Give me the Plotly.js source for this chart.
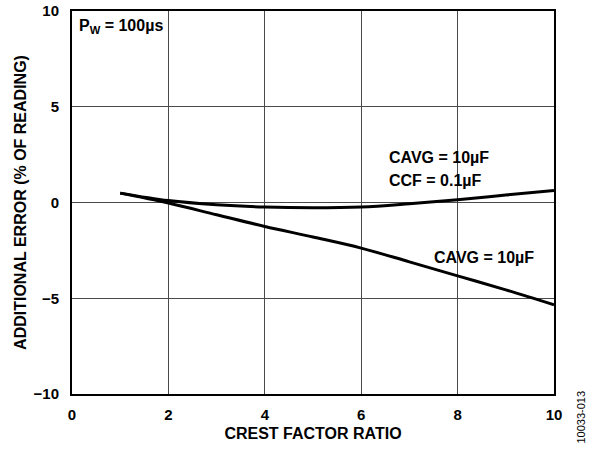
<!DOCTYPE html>
<html>
<head>
<meta charset="utf-8">
<script src="https://cdn.plot.ly/plotly-3.0.1.min.js"></script>
<style>html,body{margin:0;padding:0;background:#fff;}#chart{width:597px;height:450px;}</style>
</head>
<body>
<div id="chart"></div>
<script>
const crestFactor = [1, 2, 3, 4, 5, 6, 7, 8, 9, 10];
const errWithCcf = [0.49, 0.1, -0.12, -0.24, -0.28, -0.24, -0.07, 0.14, 0.39, 0.63];
const errNoCcf = [0.49, -0.03, -0.64, -1.25, -1.8, -2.38, -3.1, -3.83, -4.56, -5.34];
const xTicks = [0, 2, 4, 6, 8, 10];
const yTicks = [-10, -5, 0, 5, 10];
const yTickText = ['\u221210', '\u22125', '0', '5', '10'];

const FONT = 'Liberation Sans, Arial, sans-serif';
const traces = [
  {x: crestFactor, y: errWithCcf, mode: 'lines', line: {color: '#000', width: 3, shape: 'spline'}, hoverinfo: 'skip'},
  {x: crestFactor, y: errNoCcf, mode: 'lines', line: {color: '#000', width: 3, shape: 'spline'}, hoverinfo: 'skip'}
];
const ann = (x, y, text) => ({x, y, xref: 'x', yref: 'y', text, showarrow: false, xanchor: 'left', yanchor: 'middle', font: {family: FONT, size: 16, color: '#000', weight: 'bold'}});
const layout = {
  width: 597, height: 450,
  margin: {l: 72, r: 43, t: 11, b: 56},
  paper_bgcolor: '#fff', plot_bgcolor: '#fff',
  showlegend: false,
  font: {family: FONT, color: '#000', size: 15, weight: 'bold'},
  xaxis: {
    range: [0, 10], tickvals: xTicks, ticktext: xTicks.map(String),
    showgrid: true, gridcolor: '#4a4a4a', gridwidth: 1,
    showline: true, linecolor: '#000', linewidth: 2, mirror: true,
    zeroline: false, ticks: 'outside', ticklen: 6, tickcolor: 'rgba(0,0,0,0)',
    tickfont: {family: FONT, size: 15, weight: 'bold', color: '#000'},
    title: {text: 'CREST FACTOR RATIO', font: {family: FONT, size: 16, weight: 'bold', color: '#000'}, standoff: 6}
  },
  yaxis: {
    range: [-10, 10], tickvals: yTicks, ticktext: yTickText,
    showgrid: true, gridcolor: '#4a4a4a', gridwidth: 1,
    showline: true, linecolor: '#000', linewidth: 2, mirror: true,
    zeroline: false, ticks: 'outside', ticklen: 8, tickcolor: 'rgba(0,0,0,0)',
    tickfont: {family: FONT, size: 15, weight: 'bold', color: '#000'},
    title: {text: 'ADDITIONAL ERROR (% OF READING)', font: {family: FONT, size: 16, weight: 'bold', color: '#000'}, standoff: 3}
  },
  annotations: [
    ann(0.1, 9.2, 'P<sub>W</sub> = 100\u00b5s'),
    ann(6.53, 2.35, 'CAVG = 10\u00b5F'),
    ann(6.53, 1.16, 'CCF = 0.1\u00b5F'),
    ann(7.47, -2.87, 'CAVG = 10\u00b5F'),
    {x: 1, y: 0, xref: 'paper', yref: 'paper', xshift: 26, yshift: -52, text: '10033-013', textangle: -90, showarrow: false, xanchor: 'center', yanchor: 'bottom', font: {family: FONT, size: 11, color: '#000', weight: 'normal'}}
  ]
};
Plotly.newPlot('chart', traces, layout, {staticPlot: true});
</script>
</body>
</html>
